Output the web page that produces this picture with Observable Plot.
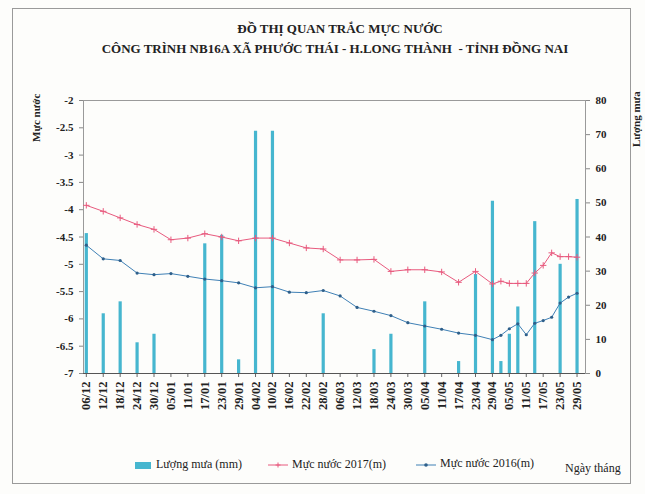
<!DOCTYPE html>
<html><head><meta charset="utf-8">
<script src="https://cdn.jsdelivr.net/npm/d3@7"></script>
<script src="https://cdn.jsdelivr.net/npm/@observablehq/plot@0.6"></script>
<style>
body{margin:0;background:#fff;}
#wrap{position:relative;width:645px;height:494px;overflow:hidden;font-family:"Liberation Serif","DejaVu Serif",serif;background:#fdfdfb;}
#frame{position:absolute;left:12px;top:8px;width:617px;height:474px;border:1px solid #9a9a9a;}
.t{position:absolute;text-align:center;font-weight:bold;font-size:13px;color:#222;white-space:pre;}
#chart{position:absolute;left:0;top:80px;width:645px;height:353px;}
#chart svg{position:absolute;left:0;top:0;}
.rot{position:absolute;transform-origin:0 0;transform:rotate(-90deg);font-weight:bold;font-size:11px;color:#222;white-space:nowrap;}
.lg{position:absolute;font-size:12px;color:#222;white-space:nowrap;}
</style></head><body>
<div id="wrap">
 <div id="frame"></div>
 <div class="t" style="left:40px;top:21px;width:600px;">ĐỒ THỊ QUAN TRẮC MỰC NƯỚC</div>
 <div class="t" style="left:35px;top:41px;width:600px;">CÔNG TRÌNH NB16A XÃ PHƯỚC THÁI - H.LONG THÀNH  - TỈNH ĐỒNG NAI</div>
 <div id="chart"></div>
 <div class="rot" style="left:30px;top:142px;">Mực nước</div>
 <div class="rot" style="left:630px;top:147px;">Lượng mưa</div>
 <div id="legend"></div>
</div>
<script>
// measurement dates
const dates = ["2016-12-06","2016-12-12","2016-12-18","2016-12-24","2016-12-30","2017-01-05","2017-01-11","2017-01-17","2017-01-23","2017-01-29","2017-02-04","2017-02-10","2017-02-16","2017-02-22","2017-02-28","2017-03-06","2017-03-12","2017-03-18","2017-03-24","2017-03-30","2017-04-05","2017-04-11","2017-04-17","2017-04-23","2017-04-29","2017-05-02","2017-05-05","2017-05-08","2017-05-11","2017-05-14","2017-05-17","2017-05-20","2017-05-23","2017-05-26","2017-05-29"];
const level2017 = [-3.92,-4.03,-4.15,-4.27,-4.36,-4.55,-4.52,-4.44,-4.50,-4.57,-4.52,-4.52,-4.61,-4.70,-4.72,-4.92,-4.92,-4.91,-5.13,-5.10,-5.10,-5.14,-5.33,-5.13,-5.36,-5.31,-5.35,-5.35,-5.35,-5.16,-5.02,-4.79,-4.86,-4.86,-4.87];
const level2016 = [-4.65,-4.90,-4.93,-5.16,-5.19,-5.17,-5.22,-5.27,-5.30,-5.34,-5.43,-5.41,-5.51,-5.52,-5.48,-5.58,-5.79,-5.86,-5.94,-6.07,-6.13,-6.19,-6.26,-6.30,-6.38,-6.30,-6.18,-6.09,-6.29,-6.08,-6.03,-5.97,-5.71,-5.60,-5.53];
// rainfall
const rainDates = ["2016-12-06","2016-12-12","2016-12-18","2016-12-24","2016-12-30","2017-01-17","2017-01-23","2017-01-29","2017-02-04","2017-02-10","2017-02-28","2017-03-18","2017-03-24","2017-04-05","2017-04-17","2017-04-23","2017-04-29","2017-05-02","2017-05-05","2017-05-08","2017-05-14","2017-05-23","2017-05-29"];
const rainMm = [41,17.5,21,9,11.5,38,40.5,4,71,71,17.5,7,11.5,21,3.5,29,50.5,3.5,11.5,19.5,44.5,32,51];
// axis ticks
const tickDates = ["2016-12-06","2016-12-12","2016-12-18","2016-12-24","2016-12-30","2017-01-05","2017-01-11","2017-01-17","2017-01-23","2017-01-29","2017-02-04","2017-02-10","2017-02-16","2017-02-22","2017-02-28","2017-03-06","2017-03-12","2017-03-18","2017-03-24","2017-03-30","2017-04-05","2017-04-11","2017-04-17","2017-04-23","2017-04-29","2017-05-05","2017-05-11","2017-05-17","2017-05-23","2017-05-29"];
const leftTicks = [-7,-6.5,-6,-5.5,-5,-4.5,-4,-3.5,-3,-2.5,-2];
const rightTicks = [0,10,20,30,40,50,60,70,80];
const xDomain = ["2016-12-05","2017-06-01"];

const P = s => new Date(s + "T00:00:00Z");
const levels = dates.map((d,i)=>({date:P(d), y17:level2017[i], y16:level2016[i]}));
const rain = rainDates.map((d,i)=>({date:P(d), mm:rainMm[i]}));
const common = {width:645,height:353,marginLeft:83,marginRight:60,marginTop:20,marginBottom:60,
  x:{type:"utc",domain:xDomain.map(P)}};
const style = {background:"transparent",fontFamily:"'Liberation Serif',serif",fontSize:"11px",fontWeight:"bold",color:"#222"};

const c1 = "#e85a7e", c2 = "#3f80b5", cb = "#46b6cf";

const rainPlot = Plot.plot({...common, style,
  y:{domain:[0,80]},
  marks:[
    Plot.ruleX(rain,{x:"date",y1:0,y2:"mm",stroke:cb,strokeWidth:3.2}),
    Plot.axisY({anchor:"right",ticks:rightTicks,tickSize:4,tickPadding:6,label:null,stroke:"#888"}),
    Plot.axisX({ticks:[],label:null})
  ]});

const lvlPlot = Plot.plot({...common, style,
  y:{domain:[-7,-2]},
  marks:[
    Plot.frame({stroke:"#9a9a9a"}),
    Plot.line(levels,{x:"date",y:"y17",stroke:c1,strokeWidth:1}),
    Plot.dot(levels,{x:"date",y:"y17",symbol:"plus",r:2.2,stroke:c1,strokeWidth:1}),
    Plot.line(levels,{x:"date",y:"y16",stroke:c2,strokeWidth:1}),
    Plot.dot(levels,{x:"date",y:"y16",r:1.6,fill:"#2e5f8a",stroke:null}),
    Plot.axisY({anchor:"left",ticks:leftTicks,tickFormat:d=>String(d),tickSize:4,tickPadding:6,label:null,stroke:"#888"}),
    Plot.axisX({ticks:tickDates.map(P),tickFormat:d3.utcFormat("%d/%m"),tickRotate:-90,tickSize:4,tickPadding:4,label:null,stroke:"#666",fontSize:12.5}),
    Plot.ruleY([-7],{stroke:"#555"})
  ]});

const chart = document.getElementById("chart");
chart.append(rainPlot, lvlPlot);

// legend
const lg = document.getElementById("legend");
lg.innerHTML = `
<div style="position:absolute;left:135px;top:462px;width:16px;height:7px;background:${cb};"></div>
<div class="lg" style="left:156px;top:457px;">Lượng mưa (mm)</div>
<svg style="position:absolute;left:266px;top:459px;" width="24" height="12"><line x1="2" y1="6" x2="22" y2="6" stroke="${c1}"/><path d="M12 3.5V8.5M9.5 6H14.5" stroke="${c1}"/></svg>
<div class="lg" style="left:292px;top:457px;">Mực nước 2017(m)</div>
<svg style="position:absolute;left:414px;top:459px;" width="24" height="12"><line x1="2" y1="6" x2="22" y2="6" stroke="${c2}"/><circle cx="12" cy="6" r="1.8" fill="#2e5f8a"/></svg>
<div class="lg" style="left:440px;top:456px;">Mực nước 2016(m)</div>
<div class="lg" style="left:565px;top:461px;">Ngày tháng</div>`;
</script>
</body></html>
